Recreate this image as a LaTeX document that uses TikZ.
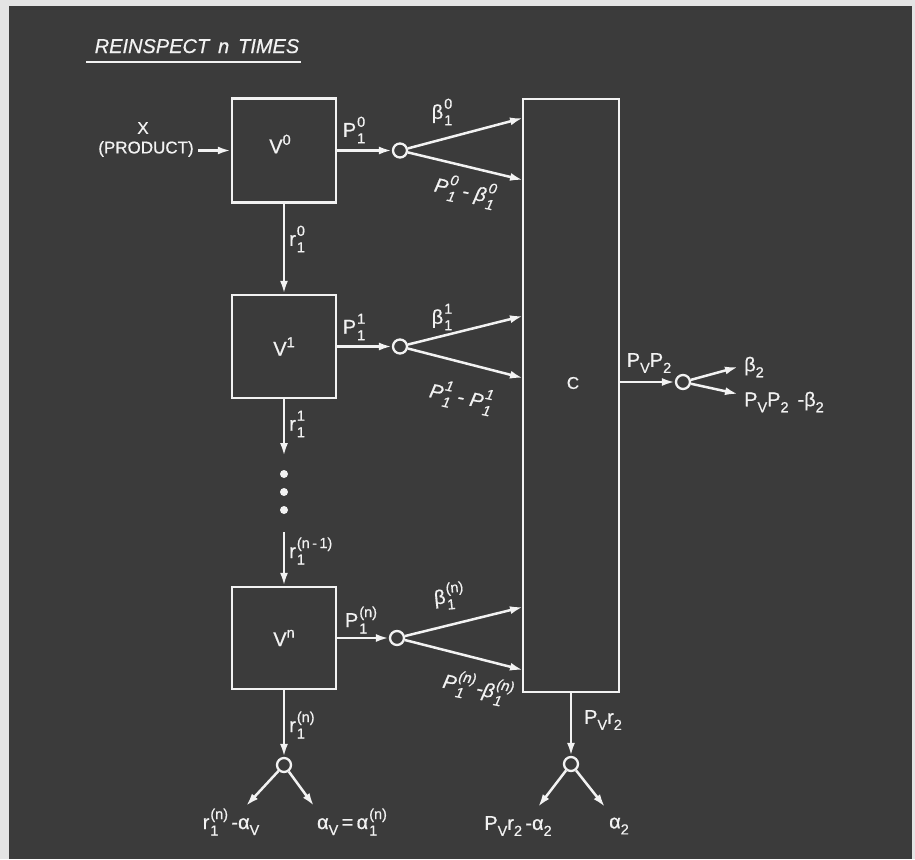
\documentclass[tikz,border=0pt]{standalone}
\usepackage{fontspec}
\setmainfont{Liberation Sans}
\usetikzlibrary{arrows.meta}
\definecolor{fg}{HTML}{F2F2F2}
\definecolor{bgdark}{HTML}{3B3B3B}
\definecolor{bglight}{HTML}{E4E4E4}
\newcommand\lblfont{\fontsize{20}{21}\selectfont\addfontfeature{FakeBold=0.6}}
\newcommand\txtfont{\fontsize{17}{18}\selectfont\addfontfeature{FakeBold=0.6}}
\newcommand\smfont{\fontsize{14.5}{14.5}\selectfont}
\newcommand\ps[3]{#1\kern.05em\begingroup\smfont
 \setbox0=\hbox{#2}\setbox2=\hbox{#3}%
 \ifdim\wd0>\wd2 \dimen0=\wd0 \else\dimen0=\wd2 \fi
 \rlap{\raisebox{10pt}{\copy0}}\rlap{\raisebox{-6.5pt}{\copy2}}\kern\dimen0\endgroup}
\newcommand\sbx[2]{#1\raisebox{-6pt}{\smfont #2}}
\newcommand\spx[2]{#1\raisebox{8.5pt}{\smfont #2}}
\newcommand\gap{\kern6pt}
\tikzset{
 ln/.style={draw=fg, line width=2.5pt},
 arr/.style={ln, -{Latex[length=13pt,width=8pt]}},
 box/.style={draw=fg, line width=2.5pt, minimum width=104pt, minimum height=104pt, inner sep=0pt, text=fg, font=\lblfont},
 junc/.style={circle, draw=fg, line width=2.3pt, minimum size=14pt, inner sep=0pt},
 lbl/.style={text=fg, inner sep=0pt, font=\lblfont},
 tlbl/.style={text=fg, inner sep=0pt, font=\txtfont},
 slbl/.style={lbl, font=\lblfont\itshape, rotate=-12},
 dot/.style={circle, fill=fg, minimum size=8pt, inner sep=0pt},
}
\begin{document}
\begin{tikzpicture}[x=1pt,y=-1pt]
\useasboundingbox (0,0) rectangle (915,859);
\fill[bglight] (0,0) rectangle (915,859);
\fill[bgdark] (9,6) rectangle (912,859);
% title
\node[lbl, font=\fontsize{20}{22}\selectfont\itshape\addfontfeature{FakeBold=0.6}, anchor=base] (title) at (197,53) {REINSPECT \,n\, TIMES};
\draw[fg, line width=2.5pt] (86,62) -- (301,62);
% boxes
\node[box] (v0) at (284,150.5) {};
\node[lbl] (v0l) at (280,144) {\spx{V}{0}};
\node[box, minimum height=103pt] (v1) at (284,346.5) {\spx{V}{1}};
\node[box, minimum height=102pt] (vn) at (284,638) {\spx{V}{n}};
\node[draw=fg, line width=2.5pt, minimum width=96pt, minimum height=593pt, inner sep=0pt] (c) at (571,395.5) {};
\node[tlbl] (clbl) at (573,383) {C};
% input
\node[tlbl] (x) at (143,128) {X};
\node[tlbl] (prod) at (146,149) {(PRODUCT)};
\coordinate (xin) at (198,150.5);
\draw[arr] (xin) -- (v0);
% junctions
\node[junc] (c0) at (400,150.5) {};
\node[junc] (c1) at (400,346.5) {};
\node[junc] (cn) at (397,638) {};
\node[junc] (cp) at (683,382) {};
\node[junc] (cr) at (284,765) {};
\node[junc] (cc) at (571,764) {};
% targets on C
\coordinate (t0a) at (523,118);
\coordinate (t0b) at (523,180);
\coordinate (t1a) at (523,316);
\coordinate (t1b) at (523,378);
\coordinate (tna) at (523,607);
\coordinate (tnb) at (523,670);
\draw[arr] (v0) -- (c0);
\draw[arr] (v1) -- (c1);
\draw[arr] (vn) -- (cn);
\draw[arr] (c0) -- (t0a);
\draw[arr] (c0) -- (t0b);
\draw[arr] (c1) -- (t1a);
\draw[arr] (c1) -- (t1b);
\draw[arr] (cn) -- (tna);
\draw[arr] (cn) -- (tnb);
% labels of P streams
\node[lbl] (lp0) at (354,130) {\ps{P}{0}{1}};
\node[lbl] (lp1) at (354,327) {\ps{P}{1}{1}};
\node[lbl] (lpn) at (361,620) {\ps{P}{(n)}{1}};
\node[lbl] (lb0) at (442,112) {\ps{β}{0}{1}};
\node[lbl] (lb1) at (442,317) {\ps{β}{1}{1}};
\node[lbl, rotate=6] (lbn) at (449,596) {\ps{β}{(n)}{1}};
\node[slbl] (ld0) at (465,191) {\ps{P}{0}{1}\gap-\gap\ps{β}{0}{1}};
\node[slbl] (ld1) at (461,397) {\ps{P}{1}{1}\gap-\gap\ps{P}{1}{1}};
\node[slbl] (ldn) at (478,688) {\ps{P}{(n)}{1}\kern2pt\ps{-β}{(n)}{1}};
% vertical chain
\draw[arr] (v0) -- (v1);
\node[lbl, anchor=west] (lr0) at (289,239) {\ps{r}{0}{1}};
\coordinate (r1end) at (284,456);
\draw[arr] (v1) -- (r1end);
\node[lbl, anchor=west] (lr1) at (289,424) {\ps{r}{1}{1}};
\node[dot] (d1) at (284,474) {};
\node[dot] (d2) at (284,492) {};
\node[dot] (d3) at (284,510) {};
\coordinate (rnstart) at (284,532);
\draw[arr] (rnstart) -- (vn);
\node[lbl, anchor=west] (lrn1) at (289,551) {\ps{r}{(n\,-\,1)}{1}};
\draw[arr] (vn) -- (cr);
\node[lbl, anchor=west] (lrn) at (289,725) {\ps{r}{(n)}{1}};
\coordinate (rl) at (246,806);
\coordinate (rr) at (314,806);
\draw[arr] (cr) -- (rl);
\draw[arr] (cr) -- (rr);
\node[lbl] (lrl) at (231,822) {\ps{r}{(n)}{1}\,-\sbx{α}{V}};
\node[lbl] (lrr) at (352,822) {\sbx{α}{V}\,=\,\ps{α}{(n)}{1}};
% C outputs
\draw[arr] (c.east |- cp) -- (cp);
\node[lbl] (lpp) at (649,363) {\sbx{P}{V}\sbx{P}{2}};
\coordinate (pa) at (738,367);
\coordinate (pb) at (738,394);
\draw[arr] (cp) -- (pa);
\draw[arr] (cp) -- (pb);
\node[lbl, anchor=west] (lb2) at (744,367) {\sbx{β}{2}};
\node[lbl, anchor=west] (lpb2) at (744,402) {\sbx{P}{V}\sbx{P}{2}\, -\sbx{β}{2}};
\draw[arr] (c) -- (cc);
\node[lbl] (lpr) at (603,720) {\sbx{P}{V}\sbx{r}{2}};
\coordinate (cl) at (538,807);
\coordinate (cr2) at (605,807);
\draw[arr] (cc) -- (cl);
\draw[arr] (cc) -- (cr2);
\node[lbl] (lcl) at (518,826) {\sbx{P}{V}\sbx{r}{2}\,-\sbx{α}{2}};
\node[lbl] (lcr) at (619,826) {\sbx{α}{2}};
\end{tikzpicture}
\end{document}
